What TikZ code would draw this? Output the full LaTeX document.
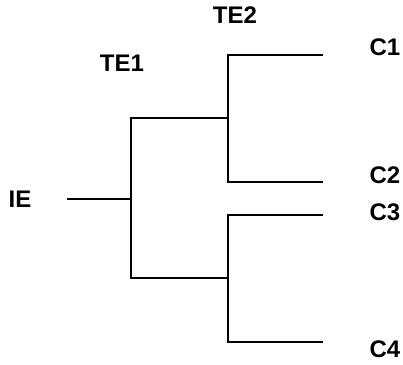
\documentclass[tikz,border=0pt]{standalone}
\usepackage{fontspec}
\setmainfont{Liberation Sans}

\begin{document}
\begin{tikzpicture}[x=1pt,y=-1pt, line width=1.6pt,
  lbl/.style={font=\fontsize{24}{27}\selectfont\bfseries, inner sep=0pt}]
  \useasboundingbox (0,0) rectangle (403,364);

  % Labels
  \node[lbl] (ie) at (20,199) {IE};
  \node[lbl] (te1) at (122,63) {TE1};
  \node[lbl] (te2) at (235,15) {TE2};
  \node[lbl] (c1) at (385,47) {C1};
  \node[lbl] (c2) at (385,175) {C2};
  \node[lbl] (c3) at (385,212) {C3};
  \node[lbl] (c4) at (385,349) {C4};

  % Branch points
  \coordinate (ieend) at (67,199);
  \coordinate (j1) at (131,199);
  \coordinate (j1top) at (131,118);
  \coordinate (j1bot) at (131,278);
  \coordinate (j2) at (228,118);
  \coordinate (j3) at (228,278);

  % Leaf ends
  \coordinate (l1) at (323,55);
  \coordinate (l2) at (323,182);
  \coordinate (l3) at (323,215);
  \coordinate (l4) at (323,342);

  % Stem and first split
  \draw (ieend) -- (j1);
  \draw (j2) -- (j1top) -- (j1bot) -- (j3);

  % Second splits
  \draw (l1) -- (j2 |- l1) -- (j2 |- l2) -- (l2);
  \draw (l3) -- (j3 |- l3) -- (j3 |- l4) -- (l4);
\end{tikzpicture}
\end{document}
